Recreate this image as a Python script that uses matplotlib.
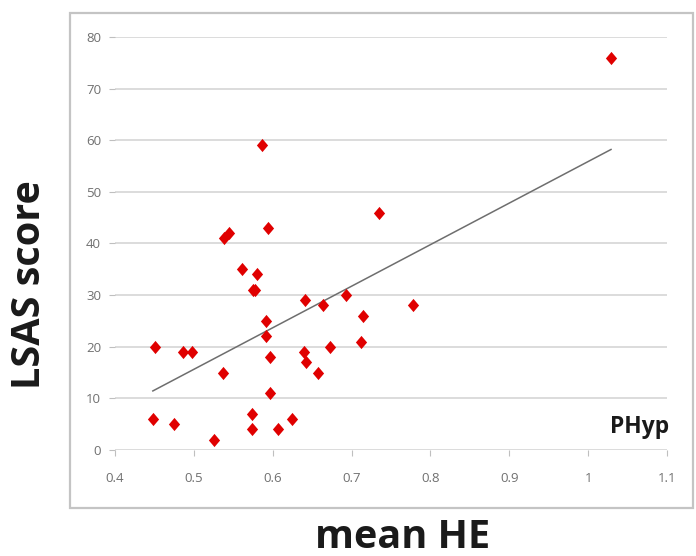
import numpy as np
import matplotlib
matplotlib.use("Agg")
import matplotlib.pyplot as plt
from matplotlib.patches import Rectangle

# Data
mean_he = [0.448, 0.451, 0.475, 0.486, 0.498, 0.525, 0.537, 0.538, 0.545,
           0.561, 0.580, 0.575, 0.578, 0.574, 0.574, 0.592, 0.591, 0.597,
           0.597, 0.607, 0.624, 0.641, 0.664, 0.693, 0.715, 0.778, 0.712,
           0.673, 0.640, 0.642, 0.658, 0.594, 0.587, 0.735, 1.029]
lsas = [6, 20, 5, 19, 19, 2, 15, 41, 42,
        35, 34, 31, 31, 7, 4, 25, 22, 18,
        11, 4, 6, 29, 28, 30, 26, 28, 21,
        20, 19, 17, 15, 43, 59, 46, 76]
x_ticks = [0.4, 0.5, 0.6, 0.7, 0.8, 0.9, 1.0, 1.1]
x_tick_labels = ["0.4", "0.5", "0.6", "0.7", "0.8", "0.9", "1", "1.1"]
y_ticks = [0, 10, 20, 30, 40, 50, 60, 70, 80]
x_label = "mean HE"
y_label = "LSAS score"
panel_label = "PHyp"

W, H = 696, 556
fig = plt.figure(figsize=(W / 100, H / 100), dpi=100)
fig.patch.set_facecolor("white")

# chart border
fig.patches.append(Rectangle((70 / W, 1 - 508 / H), 623 / W, 495 / H,
                             transform=fig.transFigure, fill=False,
                             edgecolor="#c4c4c4", linewidth=1.6))

ax = fig.add_axes([115 / W, 1 - 450 / H, 552 / W, 413 / H])
ax.set_xlim(0.4, 1.1)
ax.set_ylim(0, 80)
for s in ax.spines.values():
    s.set_visible(False)
ax.set_yticks(y_ticks)
ax.set_xticks(x_ticks)
ax.set_xticklabels(x_tick_labels)
ax.yaxis.grid(True, color="#d9d9d9", linewidth=1.3)
ax.set_axisbelow(True)
tick_family = ["Liberation Sans Narrow", "Open Sans", "DejaVu Sans"]
for lab in ax.get_xticklabels() + ax.get_yticklabels():
    lab.set_fontfamily(tick_family)
    lab.set_fontsize(9.5)
    lab.set_color("#707070")
ax.tick_params(axis="y", direction="out", length=4, color="#bfbfbf", pad=6)
ax.tick_params(axis="x", direction="out", length=4, color="#bfbfbf", pad=12)

# trend line (least squares)
xa = np.array(mean_he)
ya = np.array(lsas)
m, b = np.polyfit(xa, ya, 1)
xs = np.array([xa.min(), xa.max()])
ax.plot(xs, m * xs + b, color="#6e6e6e", linewidth=1.1, zorder=2)

diamond = [(0, 1), (0.85, 0), (0, -1), (-0.85, 0), (0, 1)]
ax.plot(mean_he, lsas, linestyle="none", marker=diamond, markersize=9.5,
        color="#e00000", markeredgewidth=0, zorder=3)

bold = dict(family=["Open Sans", "DejaVu Sans"], weight="bold", color="#1a1a1a")
fig.text(30 / W, 1 - 285 / H, y_label, rotation=90, ha="center", va="center",
         fontsize=28.5, **bold)
fig.text(403 / W, 1 - 548 / H, x_label, ha="center", va="baseline",
         fontsize=28.5, **bold)
fig.text(669 / W, 1 - 433 / H, panel_label, ha="right", va="baseline",
         fontsize=16.5, **bold)

fig.savefig("out.png", dpi=100, facecolor="white")
